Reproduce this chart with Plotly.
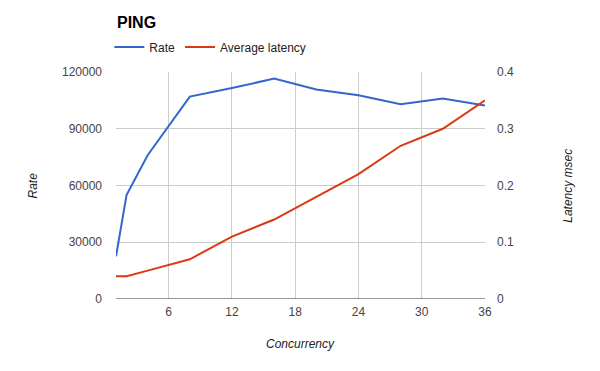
import plotly.graph_objects as go

concurrency = [1, 2, 4, 8, 12, 16, 20, 24, 28, 32, 36]
rate = [22500, 55000, 76000, 107000, 111500, 116500, 110700, 107700, 103000, 106000, 102300]
latency = [0.04, 0.04, 0.05, 0.07, 0.11, 0.14, 0.18, 0.22, 0.27, 0.30, 0.35]

x_ticks = [6, 12, 18, 24, 30, 36]
rate_ticks = [0, 30000, 60000, 90000, 120000]
lat_ticks = [0, 0.1, 0.2, 0.3, 0.4]

FONT = "Liberation Sans, Arial, sans-serif"

fig = go.Figure()
fig.add_trace(go.Scatter(x=concurrency, y=rate, name="Rate", mode="lines",
                         line=dict(color="#3366cc", width=2), yaxis="y"))
fig.add_trace(go.Scatter(x=concurrency, y=latency, name="Average latency", mode="lines",
                         line=dict(color="#dc3912", width=2), yaxis="y2"))

fig.update_layout(
    width=592, height=363,
    margin=dict(l=108, r=115, t=64, b=72, autoexpand=False),
    paper_bgcolor="white", plot_bgcolor="white",
    font=dict(family=FONT, size=12, color="#222"),
    showlegend=True,
    legend=dict(orientation="h", x=-0.018, xanchor="left", y=1.11, yanchor="middle",
                font=dict(size=12, color="#222"), itemwidth=30,
                bgcolor="rgba(0,0,0,0)", traceorder="normal"),
    xaxis=dict(range=[1, 36], tickvals=x_ticks, ticktext=[str(v) for v in x_ticks],
               showgrid=True, gridcolor="#cccccc", gridwidth=1,
               zeroline=False, showline=False, ticks="",
               tickfont=dict(size=12, color="#444"), ticklabelstandoff=4),
    yaxis=dict(range=[0, 120000], tickvals=rate_ticks, ticktext=[str(v) for v in rate_ticks],
               showgrid=True, gridcolor="#cccccc", zeroline=False, showline=False,
               ticks="", tickfont=dict(size=12, color="#444"), ticklabelstandoff=13),
    yaxis2=dict(range=[0, 0.4], tickvals=lat_ticks, ticktext=[str(v) for v in lat_ticks],
                overlaying="y", side="right", showgrid=False, zeroline=False,
                showline=False, ticks="", tickfont=dict(size=12, color="#444"),
                ticklabelstandoff=11),
    shapes=[dict(type="line", xref="paper", yref="y", x0=0, x1=1, y0=0, y1=0,
                 line=dict(color="#333333", width=1))],
    annotations=[
        dict(text="<b>PING</b>", xref="paper", yref="paper", x=-0.003, y=1.218, xanchor="left",
             yanchor="middle", showarrow=False, font=dict(size=16, color="#000", family=FONT)),
        dict(text="<i>Rate</i>", xref="paper", yref="paper", x=-0.225, y=0.5, textangle=-90,
             showarrow=False, xanchor="center", yanchor="middle",
             font=dict(size=12, color="#222")),
        dict(text="<i>Latency msec</i>", xref="paper", yref="paper", x=1.223, y=0.5, textangle=-90,
             showarrow=False, xanchor="center", yanchor="middle",
             font=dict(size=12, color="#222")),
        dict(text="<i>Concurrency</i>", xref="paper", yref="paper", x=0.5, y=-0.197,
             showarrow=False, xanchor="center", yanchor="middle",
             font=dict(size=12, color="#222")),
    ],
)

fig.write_html("out.html")
